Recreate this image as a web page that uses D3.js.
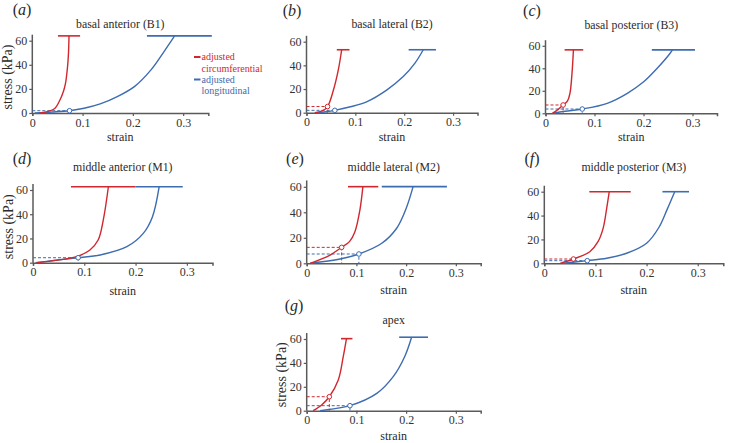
<!DOCTYPE html>
<html><head><meta charset="utf-8">
<script src="https://cdn.jsdelivr.net/npm/d3@7"></script>
<style>body{margin:0;background:#fff;}</style></head>
<body><svg id="c" width="729" height="443"></svg>
<script>
// ---------- data ----------
const panelLetters = ["a","b","c","d","e","f","g"];
const titles = ["basal anterior (B1)","basal lateral (B2)","basal posterior (B3)",
  "middle anterior (M1)","middle lateral (M2)","middle posterior (M3)","apex"];
const xTicks = [0,0.1,0.2,0.3];
const xTickLabels = ["0","0.1","0.2","0.3"];
const yTicks = [0,20,40,60];
const legendLabels = [["adjusted","circumferential"],["adjusted","longitudinal"]];

// circumferential (red) curves [strain, stress kPa]
const circB1 = [[0.015,0],[0.03,1.2],[0.044,3.5],[0.055,10.8],[0.062,18],[0.066,24.6],[0.070,38],[0.072,50],[0.073,64]];
const circB2 = [[0.017,0],[0.032,1.5],[0.043,5.2],[0.055,19],[0.065,36],[0.072,53.2]];
const circB3 = [[0.014,0],[0.026,3.5],[0.036,7.4],[0.045,11],[0.050,18],[0.054,35],[0.057,56.4]];
const circM1 = [[0.007,0],[0.04,1.7],[0.085,5],[0.111,10.5],[0.127,18.7],[0.137,35.2],[0.147,62.7]];
const circM2 = [[0.007,0],[0.047,6.5],[0.0703,12.5],[0.086,17],[0.097,24.8],[0.107,41.8],[0.113,60.1]];
const circM3 = [[0.031,0],[0.057,3.6],[0.089,9.7],[0.105,18.1],[0.115,29.3],[0.122,46.1],[0.127,60]];
const circAp = [[0.013,0],[0.030,4.8],[0.0455,11.7],[0.0635,25.7],[0.0735,45.2],[0.080,60.3]];
// longitudinal (blue) curves
const longB1 = [[0.005,0],[0.04,0.8],[0.074,1.9],[0.103,3.9],[0.135,7.5],[0.169,13.6],[0.203,21.9],[0.236,35.8],[0.262,51],[0.283,64]];
const longB2 = [[0.02,0],[0.04,0.8],[0.058,2],[0.09,5],[0.123,9.2],[0.164,19.1],[0.198,30.5],[0.222,41.9],[0.239,53.2]];
const longB3 = [[0.015,0],[0.04,1.8],[0.075,3.8],[0.126,8.9],[0.167,17.8],[0.201,28.2],[0.228,40],[0.252,52],[0.259,56.4]];
const longM1 = [[0.005,0],[0.04,1.8],[0.088,4.1],[0.131,6.4],[0.183,13.2],[0.215,24.2],[0.233,38],[0.246,62.7]];
const longM2 = [[0.007,0],[0.067,3.4],[0.105,7.3],[0.151,15.7],[0.181,27.5],[0.2,43],[0.214,60.1]];
const longM3 = [[0.037,0],[0.084,2.2],[0.122,4.2],[0.161,8.4],[0.2,16.8],[0.224,30],[0.240,45],[0.255,60]];
const longAp = [[0.027,0],[0.047,1.2],[0.087,4.2],[0.141,14.5],[0.174,28.5],[0.197,45.2],[0.211,61.5]];
const circCurves = [circB1,circB2,circB3,circM1,circM2,circM3,circAp];
const longCurves = [longB1,longB2,longB3,longM1,longM2,longM3,longAp];

// horizontal caps at peak stress [strainLo, strainHi, stress]
const circCaps = [[0.051,0.095,64],[0.062,0.088,53.2],[0.039,0.077,56.4],[0.074,0.2,62.7],[0.083,0.144,60.1],[0.088,0.169,60],[0.069,0.092,60.3]];
const longCaps = [[0.228,0.357,64],[0.209,0.265,53.2],[0.217,0.305,56.4],[0.2,0.292,62.7],[0.151,0.282,60.1],[0.231,0.283,60],[0.186,0.244,61.5]];
// marked points with dashed guides [strain, stress]
const circMarks = [null,[0.043,5.2],[0.036,7.4],null,[0.0703,12.5],[0.057,3.6],[0.0455,11.7]];
const longMarks = [[0.074,1.9],[0.058,2],[0.075,3.8],[0.088,4.1],[0.105,7.3],[0.084,2.2],[0.087,4.2]];

// ---------- layout ----------
const layout = [
  {x0:32.3, y0:113,   w:176,   h60:72.3, lx:22,  ly:8.5,   ty:23.5, sy:137, ylab:true},
  {x0:306.5,y0:112.7, w:171,   h60:71,   lx:292, ly:10,    ty:24,   sy:137, ylab:false},
  {x0:545.5,y0:113.3, w:171.5, h60:67.5, lx:532, ly:10,    ty:25,   sy:137, ylab:false},
  {x0:33,   y0:262.7, w:179.5, h60:72.7, lx:22,  ly:158.3, ty:167,  sy:290.5, ylab:true},
  {x0:306.7,y0:263.3, w:174,   h60:76.5, lx:295, ly:158,   ty:167,  sy:290, ylab:false},
  {x0:544.3,y0:263.3, w:179,   h60:71.6, lx:532, ly:158,   ty:167,  sy:290, ylab:false},
  {x0:306.7,y0:410.7, w:174,   h60:71.7, lx:294, ly:305,   ty:320,  sy:436, ylab:true}
];
const RED = "#d0282e", BLUE = "#3d6cb0", AX = "#5a5a5a", TXT = "#2a2a2a";
const FONT = "Liberation Serif";

const svg = d3.select("#c");
const line = d3.line().curve(d3.curveCatmullRom.alpha(0.5));

layout.forEach((L, i) => {
  const x = d3.scaleLinear().domain([0,0.35]).range([L.x0, L.x0 + L.w]);
  const y = d3.scaleLinear().domain([0,60]).range([L.y0, L.y0 - L.h60]);
  const g = svg.append("g");

  // axes
  const xa = g.append("g").attr("transform", `translate(0,${L.y0})`)
    .call(d3.axisBottom(x).tickValues(xTicks).tickFormat((d,j)=>xTickLabels[j]).tickSizeOuter(0).tickSize(3).tickPadding(2));
  const ya = g.append("g").attr("transform", `translate(${L.x0},0)`)
    .call(d3.axisLeft(y).tickValues(yTicks).tickSizeOuter(0).tickSize(3).tickPadding(2));
  ya.select(".domain").attr("d", `M0,${L.y0}V${y(65)}`);
  [xa, ya].forEach(a => {
    a.attr("font-family", FONT).attr("font-size", 12);
    a.select(".domain").attr("stroke", AX).attr("stroke-width", 1.5);
    a.selectAll(".tick line").attr("stroke", AX).attr("stroke-width", 1.2);
    a.selectAll(".tick text").attr("fill", "#333").attr("font-family", FONT);
  });

  // dashed guides
  const guides = (m, col) => {
    if (!m) return;
    g.append("path").attr("d", `M${x(0)},${y(m[1])}H${x(m[0])}V${y(0)}`)
      .attr("fill","none").attr("stroke", col).attr("stroke-width", 1)
      .attr("stroke-dasharray","3,2");
  };
  guides(circMarks[i], RED);
  guides(longMarks[i], BLUE);

  // curves
  [[longCurves[i], BLUE],[circCurves[i], RED]].forEach(([d,col]) => {
    g.append("path").attr("d", line(d.map(p=>[x(p[0]),y(p[1])])))
      .attr("fill","none").attr("stroke", col).attr("stroke-width", 1.4);
  });
  // caps
  [[circCaps[i], RED],[longCaps[i], BLUE]].forEach(([c,col]) => {
    g.append("line").attr("x1", x(c[0])).attr("x2", x(c[1]))
      .attr("y1", y(c[2])).attr("y2", y(c[2]))
      .attr("stroke", col).attr("stroke-width", 1.6);
  });
  // markers
  [[circMarks[i], RED],[longMarks[i], BLUE]].forEach(([m,col]) => {
    if (!m) return;
    g.append("circle").attr("cx", x(m[0])).attr("cy", y(m[1])).attr("r", 2.3)
      .attr("fill","#fff").attr("stroke", col).attr("stroke-width", 1);
  });

  // texts
  const cx = L.x0 + L.w/2;
  g.append("text").attr("x", cx).attr("y", L.ty).attr("text-anchor","middle")
    .attr("dominant-baseline","central").attr("fill", TXT).attr("font-family", FONT)
    .attr("font-size", 11.8).text(titles[i]);
  g.append("text").attr("x", cx).attr("y", L.sy).attr("text-anchor","middle")
    .attr("dominant-baseline","central").attr("fill", TXT).attr("font-family", FONT)
    .attr("font-size", 12).text("strain");
  const lt = g.append("text").attr("x", L.lx).attr("y", L.ly).attr("text-anchor","middle")
    .attr("dominant-baseline","central").attr("fill", TXT).attr("font-family", FONT)
    .attr("font-size", 16);
  lt.append("tspan").text("(");
  lt.append("tspan").attr("font-style","italic").text(panelLetters[i]);
  lt.append("tspan").text(")");
  if (L.ylab) {
    g.append("text").attr("transform", `translate(${L.x0-25},${L.y0-36}) rotate(-90)`)
      .attr("text-anchor","middle").attr("dominant-baseline","central")
      .attr("fill", TXT).attr("font-family", FONT).attr("font-size", 14).text("stress (kPa)");
  }
});

// legend (in panel a)
const leg = svg.append("g");
[[RED,56.5,68.5],[BLUE,79,90]].forEach(([col,y1,y2],k) => {
  leg.append("line").attr("x1",194).attr("x2",200.5).attr("y1",y1+0.5).attr("y2",y1+0.5)
    .attr("stroke",col).attr("stroke-width",2);
  leg.append("text").attr("x",201.5).attr("y",y1).attr("dominant-baseline","central")
    .attr("fill",col).attr("font-family", FONT).attr("font-size", 10).text(legendLabels[k][0]);
  leg.append("text").attr("x",201.5).attr("y",y2).attr("dominant-baseline","central")
    .attr("fill",col).attr("font-family", FONT).attr("font-size", 10).text(legendLabels[k][1]);
});
</script></body></html>
